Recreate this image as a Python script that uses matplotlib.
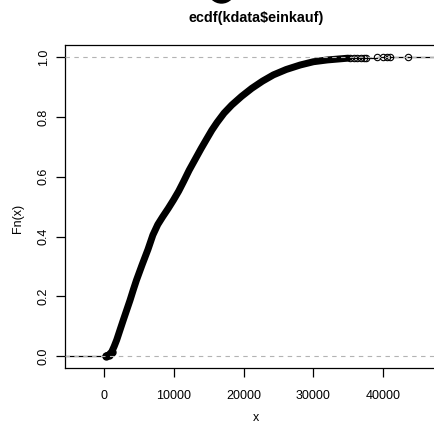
import matplotlib.pyplot as plt
from matplotlib.patches import Ellipse

plt.rcParams['font.family'] = ['Liberation Sans', 'DejaVu Sans']

# ECDF von kdata$einkauf
curve_x = [300, 700, 1100, 1450, 1820, 2300, 2770, 3250, 3730, 4200, 4650,
           5450, 6300, 7000, 7700, 8400, 9200, 9950, 10700, 11400, 12200,
           13050, 13900, 14720, 15450, 16200, 17200, 18300, 19700, 21170,
           22700, 24270, 26100, 28100, 30000, 32000, 34000, 35000]
curve_f = [0.000, 0.004, 0.014, 0.032, 0.054, 0.088, 0.121, 0.154, 0.187,
           0.222, 0.254, 0.305, 0.357, 0.405, 0.440, 0.466, 0.494, 0.522,
           0.552, 0.584, 0.622, 0.658, 0.694, 0.727, 0.756, 0.782, 0.813,
           0.840, 0.869, 0.896, 0.920, 0.941, 0.959, 0.974, 0.985, 0.991,
           0.995, 0.997]

# einzelne Punkte am oberen Ende
tail_x = [35300, 35800, 36300, 36800, 37300, 37600, 39060, 40020, 40500,
          40970, 43600]
tail_f = [0.9975, 0.998, 0.9983, 0.9986, 0.9989, 0.9991, 0.9993, 0.9995,
          0.9997, 0.9998, 1.0]

xticks = [0, 10000, 20000, 30000, 40000]
yticks = [0.0, 0.2, 0.4, 0.6, 0.8, 1.0]

W, H = 435, 423
fig = plt.figure(figsize=(W / 100, H / 100), dpi=100)
ax = fig.add_axes([65 / W, 1 - 368 / H, (447 - 65) / W, (368 - 45) / H])
xlim = (-5590, 49140)
ax.set_xlim(*xlim)
ax.set_ylim(-0.04, 1.041)

# Stufen links/rechts
ax.plot([xlim[0], curve_x[0]], [0, 0], color='black', lw=0.9, zorder=2)
ax.plot([tail_x[-1], xlim[1]], [1, 1], color='black', lw=0.9, zorder=2)
ax.plot(tail_x, tail_f, color='black', lw=0.9, zorder=2, drawstyle='steps-post')

# dichte Punktwolke als dicke Linie
ax.plot(curve_x, curve_f, color='black', lw=5.0, solid_capstyle='round',
        solid_joinstyle='round', zorder=3)
ax.plot(curve_x[:3], curve_f[:3], 'o', ms=5, mfc='black', mec='black', zorder=3)
ax.plot(tail_x, tail_f, 'o', ms=4.6, mfc='none', mec='black', mew=0.8, zorder=3)

# Hilfslinien bei 0 und 1
ax.axhline(0, color='#b3b3b3', lw=0.8, ls=(0, (4, 4)), zorder=4)
ax.axhline(1, color='#b3b3b3', lw=0.8, ls=(0, (4, 4)), zorder=4)

for side in ['left', 'bottom', 'top', 'right']:
    ax.spines[side].set_linewidth(0.9)

ax.set_xticks(xticks)
ax.set_xticklabels([str(v) for v in xticks], fontsize=9)
ax.set_yticks(yticks)
ax.set_yticklabels([f'{v:.1f}' for v in yticks], fontsize=9, rotation=90,
                   va='center')
ax.tick_params(direction='out', length=6.5, width=0.9)
ax.tick_params(axis='x', pad=9)
ax.tick_params(axis='y', pad=4.5)

fig.text(256 / W, 1 - 18 / H, 'ecdf(kdata$einkauf)', ha='center', va='center',
         fontsize=10.4, fontweight='bold')
fig.text(256 / W, 1 - 418 / H, 'x', ha='center', va='center', fontsize=9)
fig.text(18 / W, 1 - 218 / H, 'Fn(x)', ha='center', va='center', fontsize=9,
         rotation=90)

# angeschnittenes Element am oberen Rand
fig.patches.append(Ellipse((221.5 / W, 1 + 10.5 / H), 27 / W, 27 / H,
                           transform=fig.transFigure, color='black'))

fig.savefig('out.png', dpi=100)
